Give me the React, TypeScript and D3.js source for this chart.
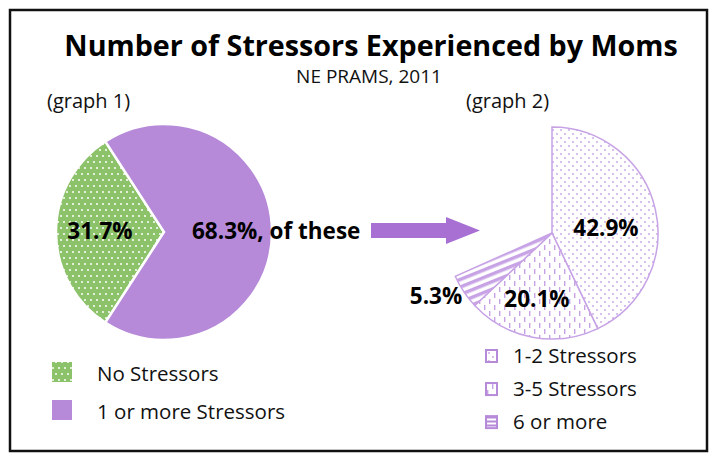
import React, { useRef, useEffect } from 'react';
import * as d3 from 'd3';

// graph 1: all moms
const graph1Labels = ['No Stressors', '1 or more Stressors'];
const graph1Values = [31.7, 68.3];
// graph 2: moms with stressors, out of all moms
const graph2Labels = ['1-2 Stressors', '3-5 Stressors', '6 or more'];
const graph2Values = [42.9, 20.1, 5.3];

const FONT = '"Open Sans", Lato, sans-serif';

const App = () => {
  const ref = useRef<SVGSVGElement>(null);

  useEffect(() => {
    const svg = d3.select(ref.current);
    svg.selectAll('*').remove();

    const green = '#8cc26a';
    const purple = '#b68ad9';
    const lilac = '#c7a3e6';

    const defs = svg.append('defs');

    // green with white dots
    const pg = defs.append('pattern').attr('id', 'pGreen').attr('patternUnits', 'userSpaceOnUse')
      .attr('width', 12).attr('height', 12);
    pg.append('rect').attr('width', 12).attr('height', 12).attr('fill', green);
    [[2, 2], [8, 2], [5, 8], [11, 8], [-1, 8]].forEach(([x, y]) =>
      pg.append('circle').attr('cx', x).attr('cy', y).attr('r', 1).attr('fill', '#fff'));

    // small lilac dots
    const pd = defs.append('pattern').attr('id', 'pDots').attr('patternUnits', 'userSpaceOnUse')
      .attr('width', 8).attr('height', 8);
    pd.append('rect').attr('width', 8).attr('height', 8).attr('fill', '#fff');
    [[1, 1], [5, 5]].forEach(([x, y]) =>
      pd.append('circle').attr('cx', x).attr('cy', y).attr('r', 0.9).attr('fill', lilac));

    // vertical dashes
    const pv = defs.append('pattern').attr('id', 'pDash').attr('patternUnits', 'userSpaceOnUse')
      .attr('width', 10).attr('height', 12);
    pv.append('rect').attr('width', 10).attr('height', 12).attr('fill', '#fff');
    pv.append('rect').attr('x', 2).attr('y', 0).attr('width', 1.4).attr('height', 5).attr('fill', lilac);
    pv.append('rect').attr('x', 7).attr('y', 6).attr('width', 1.4).attr('height', 5).attr('fill', lilac);

    // slanted stripes
    const ps = defs.append('pattern').attr('id', 'pStripe').attr('patternUnits', 'userSpaceOnUse')
      .attr('width', 7).attr('height', 7).attr('patternTransform', 'rotate(-22)');
    ps.append('rect').attr('width', 7).attr('height', 7).attr('fill', '#fff');
    ps.append('rect').attr('y', 0).attr('width', 7).attr('height', 3.5).attr('fill', lilac);

    // horizontal stripes (legend)
    const ph = defs.append('pattern').attr('id', 'pHoriz').attr('patternUnits', 'userSpaceOnUse')
      .attr('width', 4).attr('height', 4);
    ph.append('rect').attr('width', 4).attr('height', 4).attr('fill', '#fff');
    ph.append('rect').attr('y', 0.5).attr('width', 4).attr('height', 2).attr('fill', purple);

    // border
    svg.append('rect').attr('x', 10).attr('y', 10).attr('width', 697).attr('height', 441)
      .attr('fill', '#fff').attr('stroke', '#111').attr('stroke-width', 2.5);

    svg.append('text').attr('x', 371).attr('y', 56).attr('text-anchor', 'middle')
      .attr('font-family', FONT).attr('font-weight', 700).attr('font-size', 28.7)
      .attr('fill', '#000').text('Number of Stressors Experienced by Moms');
    svg.append('text').attr('x', 369).attr('y', 83).attr('text-anchor', 'middle')
      .attr('font-family', FONT).attr('font-size', 19).attr('fill', '#111').text('NE PRAMS, 2011');
    svg.append('text').attr('x', 47).attr('y', 108).attr('font-family', FONT).attr('font-size', 20)
      .attr('fill', '#111').text('(graph 1)');
    svg.append('text').attr('x', 466).attr('y', 108).attr('font-family', FONT).attr('font-size', 20)
      .attr('fill', '#111').text('(graph 2)');

    // graph 1
    const r1 = 108;
    const g1 = svg.append('g').attr('transform', 'translate(164,232)');
    const gStart = (3 * Math.PI) / 2 - (graph1Values[0] / 100) * Math.PI;
    const pie1 = d3.pie<number>().sort(null).startAngle(gStart).endAngle(gStart + 2 * Math.PI);
    const arc1 = d3.arc<d3.PieArcDatum<number>>().innerRadius(0).outerRadius(r1);
    g1.selectAll('path').data(pie1(graph1Values)).enter().append('path')
      .attr('d', arc1)
      .attr('fill', (_, i) => (i === 0 ? 'url(#pGreen)' : purple))
      .attr('stroke', '#fff').attr('stroke-width', 2.5);

    g1.append('text').attr('x', -64).attr('y', 7).attr('text-anchor', 'middle')
      .attr('font-family', FONT).attr('font-weight', 700).attr('font-size', 22.5).attr('fill', '#000')
      .text(`${graph1Values[0].toFixed(1)}%`);
    g1.append('text').attr('x', 28).attr('y', 7)
      .attr('font-family', FONT).attr('font-weight', 700).attr('font-size', 22.5).attr('fill', '#000')
      .text(`${graph1Values[1].toFixed(1)}%, of these`);

    // arrow
    const arrow = d3.path();
    arrow.moveTo(371, 223);
    arrow.lineTo(446, 223);
    arrow.lineTo(446, 217);
    arrow.lineTo(480, 230.5);
    arrow.lineTo(446, 244);
    arrow.lineTo(446, 238);
    arrow.lineTo(371, 238);
    arrow.closePath();
    svg.append('path').attr('d', arrow.toString()).attr('fill', '#a970d4');

    // graph 2: remainder (no stressors) left empty
    const r2 = 106;
    const g2 = svg.append('g').attr('transform', 'translate(552,233)');
    const rest = 100 - d3.sum(graph2Values);
    const pie2 = d3.pie<number>().sort(null);
    const arcs2 = pie2([...graph2Values, rest]).slice(0, graph2Values.length);
    const arc2 = d3.arc<d3.PieArcDatum<number>>().innerRadius(0).outerRadius(r2);
    const fills2 = ['url(#pDots)', 'url(#pDash)', 'url(#pStripe)'];
    g2.selectAll('path').data(arcs2).enter().append('path')
      .attr('d', arc2)
      .attr('fill', (_, i) => fills2[i])
      .attr('stroke', lilac).attr('stroke-width', 1.5);

    const labelPos = [[54, 3], [-15, 74], [-116, 71]];
    arcs2.forEach((a, i) => {
      g2.append('text').attr('x', labelPos[i][0]).attr('y', labelPos[i][1]).attr('text-anchor', 'middle')
        .attr('font-family', FONT).attr('font-weight', 700).attr('font-size', 22.5).attr('fill', '#000')
        .text(`${a.data.toFixed(1)}%`);
    });

    // legend 1
    const leg1 = d3.scaleBand<string>().domain(graph1Labels).range([362, 420]).paddingInner(0.474);
    graph1Labels.forEach((lab, i) => {
      const y = leg1(lab)!;
      svg.append('rect').attr('x', 52).attr('y', y).attr('width', 20).attr('height', 20)
        .attr('fill', i === 0 ? 'url(#pGreen)' : purple);
      svg.append('text').attr('x', 97).attr('y', y + 19).attr('font-family', FONT).attr('font-size', 20.5)
        .attr('fill', '#111').text(lab);
    });

    // legend 2
    const leg2 = d3.scaleBand<string>().domain(graph2Labels).range([350, 430]).paddingInner(0.58);
    const legFills = ['url(#pDots)', 'url(#pDash)', 'url(#pHoriz)'];
    graph2Labels.forEach((lab, i) => {
      const y = leg2(lab)!;
      svg.append('rect').attr('x', 486).attr('y', y).attr('width', 11).attr('height', 12)
        .attr('fill', legFills[i]).attr('stroke', purple).attr('stroke-width', 2);
      svg.append('text').attr('x', 513).attr('y', y + 13).attr('font-family', FONT).attr('font-size', 20.5)
        .attr('fill', '#111').text(lab);
    });
  }, []);

  return <svg ref={ref} width={710} height={454} style={{ position: 'absolute', left: 0, top: 0 }} />;
};

export default App;
